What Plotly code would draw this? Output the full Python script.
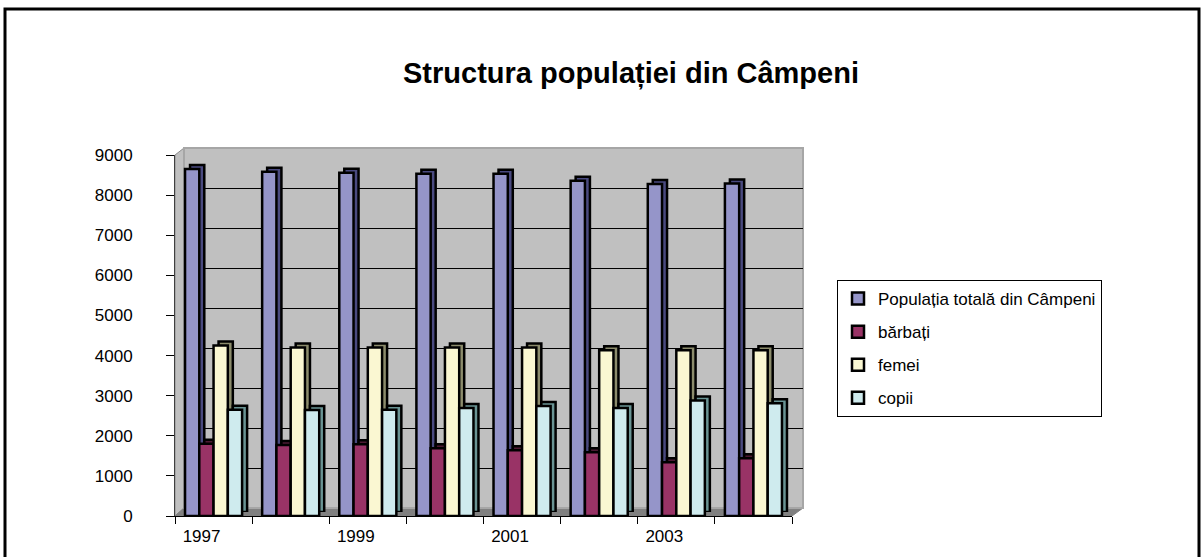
import plotly.graph_objects as go

# ---------------- data ----------------
years = [1997, 1998, 1999, 2000, 2001, 2002, 2003, 2004]
total = [8650, 8580, 8560, 8530, 8530, 8360, 8280, 8290]
barbati = [1800, 1770, 1790, 1690, 1640, 1590, 1340, 1440]
femei = [4250, 4200, 4200, 4200, 4200, 4130, 4130, 4130]
copii = [2650, 2640, 2650, 2690, 2740, 2690, 2880, 2810]

series_names = ["Populația totală din Câmpeni", "bărbați", "femei", "copii"]
series_values = [total, barbati, femei, copii]
label_years = [1997, 1999, 2001, 2003]
y_ticks = [0, 1000, 2000, 3000, 4000, 5000, 6000, 7000, 8000, 9000]

front_colors = ["#9595C9", "#993366", "#FAF7D2", "#CFEBEE"]
side_colors = ["#4A4A80", "#4D1A33", "#8C8C6C", "#6A9494"]

W, H = 1201, 557
FONT = "Liberation Sans, Arial, sans-serif"


def fx(p):
    return p / W


def fy(p):
    return 1 - p / H


fig = go.Figure()

# subplot 1 (x, y): back wall with gridlines (dummy trace to create it)
fig.add_trace(go.Scatter(x=[None], y=[None], xaxis="x", yaxis="y",
                         showlegend=False, hoverinfo="skip"))

# subplot 2 (x2, y2): depth faces (shifted up-right)
for name, vals, col in zip(series_names, series_values, side_colors):
    fig.add_trace(go.Bar(x=years, y=vals, name=name, xaxis="x2", yaxis="y2",
                         marker=dict(color=col, line=dict(color="black", width=2.5)),
                         showlegend=False, hoverinfo="skip"))

# subplot 3 (x3, y3): front faces
for i, (name, vals, col) in enumerate(zip(series_names, series_values, front_colors)):
    fig.add_trace(go.Bar(x=years, y=vals, name=name, xaxis="x3", yaxis="y3",
                         legendgroup=f"g{i}",
                         marker=dict(color=col, line=dict(color="black", width=2.5))))

xr = [1996.5, 2004.5]
yr = [0, 9000]

# domains (pixel positions of the pseudo-3D planes)
wall_x = [fx(184), fx(803)]
wall_y = [fy(508), fy(148)]
depth_x = [fx(180), fx(797)]
depth_y = [fy(512), fy(151)]
front_x = [fx(175), fx(792)]
front_y = [fy(516), fy(155)]

fig.update_layout(
    width=W, height=H,
    autosize=False,
    margin=dict(l=0, r=0, t=0, b=0, pad=0, autoexpand=False),
    paper_bgcolor="white",
    plot_bgcolor="rgba(0,0,0,0)",
    barmode="group",
    bargap=0.26,
    bargroupgap=0,
    font=dict(family=FONT, size=17, color="black"),
    title=dict(text="<b>Structura populației din Câmpeni</b>",
               x=fx(631), y=fy(73), xanchor="center", yanchor="middle",
               font=dict(family=FONT, size=29, color="black")),
    xaxis=dict(domain=wall_x, range=xr, showgrid=False, showticklabels=False,
               zeroline=False, ticks="", anchor="y", automargin=False),
    yaxis=dict(domain=wall_y, range=yr, tickvals=y_ticks, showgrid=True,
               gridcolor="black", gridwidth=1, showticklabels=False,
               zeroline=False, ticks="", anchor="x", automargin=False),
    xaxis2=dict(domain=depth_x, range=xr, showgrid=False, showticklabels=False,
                zeroline=False, ticks="", anchor="y2", automargin=False),
    yaxis2=dict(domain=depth_y, range=yr, showgrid=False, showticklabels=False,
                zeroline=False, ticks="", anchor="x2", automargin=False),
    xaxis3=dict(domain=front_x, range=xr, showgrid=False, zeroline=False,
                tickmode="array", tickvals=label_years,
                ticktext=[str(y) for y in label_years],
                ticks="", ticklabelshift=-12, ticklabelstandoff=5,
                showline=True, linecolor="black", linewidth=1,
                minor=dict(tickmode="linear", tick0=1996.5, dtick=1,
                           ticks="outside", ticklen=7, tickcolor="black",
                           tickwidth=1, showgrid=False),
                tickfont=dict(size=17), anchor="y3", automargin=False),
    yaxis3=dict(domain=front_y, range=yr, tickmode="array", tickvals=y_ticks,
                showgrid=False, zeroline=False, ticks="outside", ticklen=8,
                tickcolor="black", showline=True, linecolor="#404040",
                linewidth=1, ticklabelstandoff=30, tickfont=dict(size=17),
                anchor="x3", automargin=False),
    legend=dict(x=fx(837), y=fy(280), xanchor="left", yanchor="top",
                bgcolor="white", bordercolor="black", borderwidth=1,
                font=dict(family=FONT, size=17),
                traceorder="grouped", tracegroupgap=8,
                itemwidth=30),
    showlegend=True,
)

shapes = []
# left side wall
shapes.append(dict(type="path", xref="paper", yref="paper", layer="below",
                   path=(f"M {fx(175)} {fy(516)} L {fx(175)} {fy(155)} "
                         f"L {fx(184)} {fy(148)} L {fx(184)} {fy(508)} Z"),
                   fillcolor="#C0C0C0", line=dict(color="#8C8C8C", width=1)))
# floor
shapes.append(dict(type="path", xref="paper", yref="paper", layer="below",
                   path=(f"M {fx(175)} {fy(516)} L {fx(792)} {fy(516)} "
                         f"L {fx(803)} {fy(508)} L {fx(184)} {fy(508)} Z"),
                   fillcolor="#808080", line=dict(color="#808080", width=1)))
# back wall
shapes.append(dict(type="rect", xref="x domain", yref="y domain", layer="below",
                   x0=0, x1=1, y0=0, y1=1,
                   fillcolor="#C0C0C0", line=dict(color="#A6A6A6", width=2)))
# chart border
shapes.append(dict(type="rect", xref="paper", yref="paper", layer="above",
                   x0=fx(5), x1=fx(1199), y0=fy(565), y1=fy(9),
                   fillcolor="rgba(0,0,0,0)", line=dict(color="black", width=3)))
fig.update_layout(shapes=shapes)

fig.write_html(
    "out.html",
    config={"displayModeBar": False, "responsive": False},
    post_script="document.body.style.margin='0px';document.body.style.overflow='hidden';",
)
